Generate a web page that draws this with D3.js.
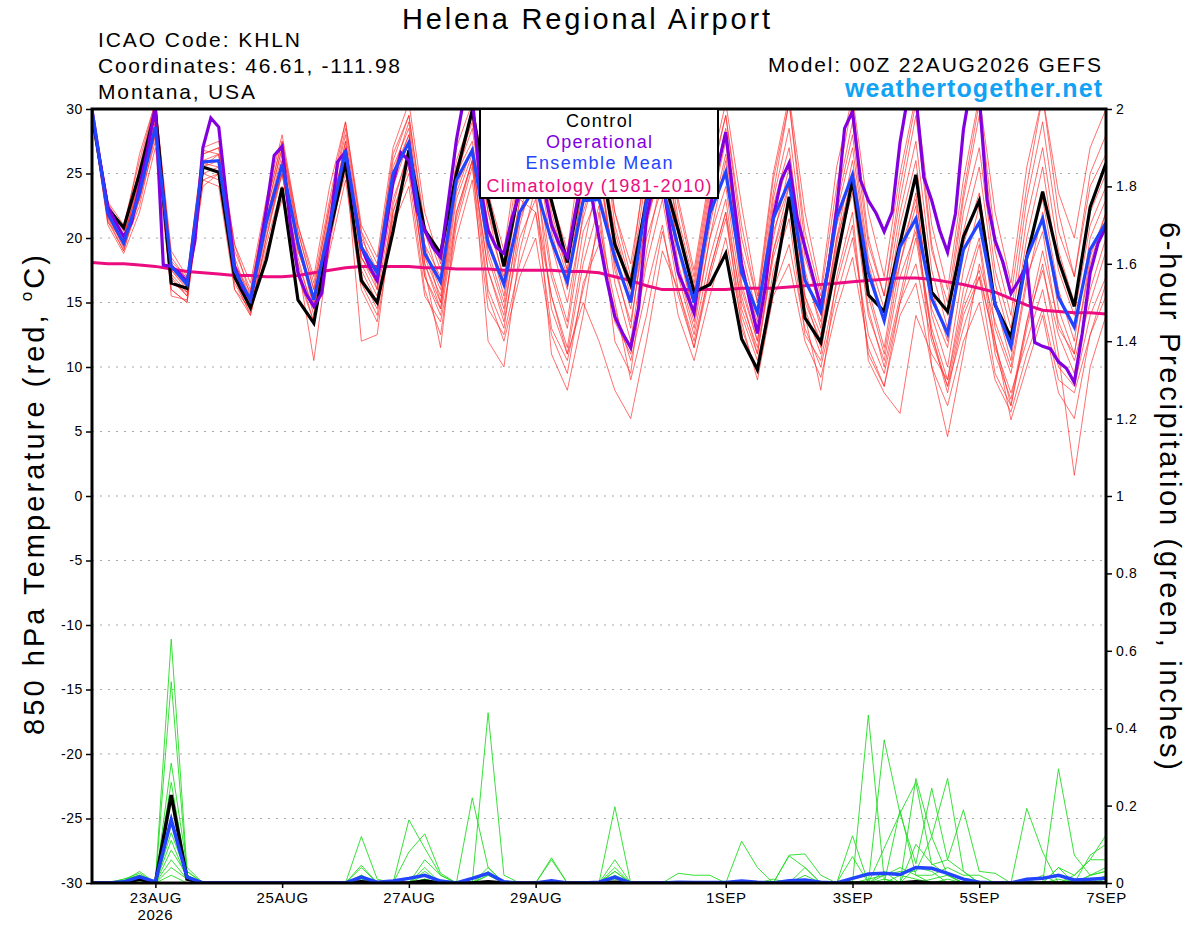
<!DOCTYPE html>
<html>
<head>
<meta charset="utf-8">
<script src="https://d3js.org/d3.v7.min.js"></script>
<style>
  body { margin: 0; background: #fff; }
  svg { display: block; font-family: "Liberation Sans", Arial, Helvetica, sans-serif; }
</style>
</head>
<body>
<div id="chart"></div>
<script>
// ---- data (6-hourly from 00Z 22AUG2026, op run 3-hourly) ----
const control = [29.5, 22.3, 20.8, 25.0, 29.9, 16.5, 16.1, 25.5, 25.1, 17.0, 14.6, 18.3, 23.9, 15.2, 13.4, 20.4,
  25.9, 16.7, 15.0, 20.5, 26.8, 20.6, 18.8, 25.0, 29.9, 23.0, 17.8, 24.0, 27.0, 22.9, 18.1, 25.0,
  27.0, 19.5, 16.4, 22.9, 25.0, 20.6, 15.8, 16.4, 18.8, 12.2, 9.8, 16.2, 23.2, 13.8, 11.9, 18.3,
  24.5, 15.6, 14.3, 19.6, 24.9, 15.8, 14.3, 20.1, 22.9, 14.8, 12.3, 18.5, 23.6, 18.3, 14.7, 22.4, 25.8];

const ensMean = [29.9, 21.9, 19.6, 23.5, 28.6, 17.8, 16.4, 25.9, 26.0, 17.5, 15.2, 21.2, 25.7, 19.6, 15.2, 21.0,
  26.8, 19.3, 17.3, 25.0, 27.4, 18.8, 16.6, 24.5, 26.8, 19.6, 16.4, 22.0, 24.0, 19.8, 16.6, 22.9,
  23.0, 18.5, 15.0, 22.9, 24.0, 19.3, 15.0, 21.9, 25.1, 17.3, 14.2, 21.5, 24.4, 16.7, 14.3, 21.6,
  24.9, 17.3, 13.6, 19.3, 21.5, 15.3, 12.6, 19.1, 21.2, 14.9, 11.6, 18.5, 21.5, 15.4, 13.1, 19.1, 21.2];

const climo = [18.1, 18.0, 18.0, 17.9, 17.8, 17.6, 17.4, 17.3, 17.2, 17.1, 17.1, 17.0, 17.0, 17.1, 17.3, 17.5,
  17.7, 17.8, 17.8, 17.8, 17.8, 17.7, 17.7, 17.6, 17.6, 17.6, 17.5, 17.5, 17.5, 17.5, 17.4, 17.4,
  17.3, 17.0, 16.7, 16.3, 16.0, 16.0, 16.0, 16.0, 16.0, 16.1, 16.1, 16.1, 16.2, 16.3, 16.4, 16.5,
  16.6, 16.7, 16.8, 16.9, 16.9, 16.8, 16.6, 16.4, 16.1, 15.8, 15.3, 14.8, 14.4, 14.3, 14.2, 14.2, 14.1];

// operational GFS, 3-hourly
const operational = [29.9, 26, 22.4, 21.2, 20.1, 21.2, 24, 26.8,
  30.2, 17.9, 17.8, 17.3, 16.6, 19.8, 27, 29.3,
  28.6, 23, 17.8, 16.2, 15.2, 18.5, 22.2, 26.4,
  27.1, 21.2, 17.3, 15.7, 14.7, 15.7, 20.6, 25.9,
  26.7, 22.9, 19.3, 17.8, 16.7, 20.4, 24.3, 26.6,
  26.0, 22.2, 20.6, 19.3, 18.5, 22.9, 27.6, 31,
  31, 24, 20.6, 19.3, 18.8, 21.5, 23.5, 26,
  28, 24, 21, 19.5, 18.5, 22, 25, 23.5,
  20, 16.7, 13.9, 12.6, 11.5, 14.6, 21.6, 24.5,
  24.5, 20.5, 17.3, 15.8, 14.2, 18.5, 22.2, 25.5,
  28.2, 23, 18, 15.2, 12.6, 16.2, 21.6, 24.5,
  25.8, 21.6, 19.3, 17, 14.7, 17.8, 22.2, 28.5,
  29.8, 24.5, 22.9, 21.9, 20.5, 22, 27.4, 31,
  31, 24.7, 22.9, 20.6, 18.9, 21.9, 28.4, 32,
  31, 22.9, 19.8, 18.1, 15.7, 16.7, 17.9, 11.9,
  11.6, 11.4, 10.4, 9.9, 8.8, 12.6, 17.3, 19.6,
  20.9];

// ensemble members, 850 hPa temperature
const ens01 = [30, 22.5, 20, 24.5, 29.5, 18.5, 16.8, 26.5, 27, 19, 16, 22.5, 27.5, 20.5, 16, 22.5,
  28.5, 20.5, 18, 26, 29.5, 21, 17.5, 26, 29.5, 22, 18, 26.5, 30.5, 22, 17.5, 27,
  30.5, 21, 16.5, 25, 29, 21.5, 16.5, 24, 29.5, 20, 15, 23.5, 30.5, 20.5, 15.5, 24,
  30.5, 20, 15.5, 23, 29.5, 19, 15, 23.5, 30.5, 20, 15.5, 24, 31, 22, 17, 25, 28];
const ens02 = [29.5, 21, 18.8, 22, 27, 16, 15, 24.5, 24, 16, 14, 19, 23, 17.5, 13.5, 19,
  24.5, 16, 13.5, 21, 24, 15.5, 13.5, 20, 24.5, 14.5, 12.5, 18, 22, 13, 10.5, 16,
  21, 15, 9, 14, 20.5, 15.5, 11.5, 17, 21.5, 14, 10.5, 16, 19.5, 13, 10, 15.5,
  20, 12.5, 9.5, 15, 18, 12, 8.5, 14.5, 17.5, 11.5, 8, 12, 16, 10, 8.5, 14, 17];
const ens03 = [30, 22, 19.5, 23, 28.5, 17.5, 16, 26, 26.5, 18, 15.5, 21, 26, 19.5, 14.5, 21.5,
  27.5, 18.5, 16.5, 24.5, 28, 19, 16, 25, 27.5, 20, 15.5, 23, 22, 15.5, 11, 15,
  12, 8.2, 6.0, 12, 19, 16, 12, 17.5, 22, 15, 11.5, 19, 24, 15, 12, 20,
  26, 17.5, 13.5, 18, 22.5, 10, 4.6, 11, 18, 13.5, 10, 17, 20.5, 13, 11, 18.5, 22];
const ens04 = [29.8, 21.5, 19, 23.5, 28, 17, 15.5, 25, 25.5, 17, 14.5, 20.5, 25, 18, 10.5, 19.5,
  26, 12, 12.5, 22, 25.5, 17.5, 11.5, 22, 26, 12, 10, 19, 24, 11, 8.2, 14,
  22, 12, 9.5, 19, 25, 17, 12.5, 18.5, 23, 14.5, 11, 19, 23, 14, 8.2, 17,
  22, 10.5, 8, 6.4, 14, 11, 9, 16, 20, 12, 7, 13, 18, 11, 1.6, 10, 14];
const ens05 = [30, 22.8, 21, 26, 30.5, 19, 17, 27, 27.5, 19.5, 16.5, 23, 28, 21, 16.5, 23,
  29, 21, 18.5, 27, 30.5, 22, 18, 27, 30.5, 23.5, 19, 27.5, 31, 23, 19, 28,
  31, 22, 17, 26.5, 30.5, 23, 17.5, 25, 30.5, 22.5, 15.5, 25, 31, 22, 16, 25.5,
  31, 22, 17, 25, 31, 21, 16, 24.5, 31, 22, 16.5, 25.5, 31, 23.5, 20, 27, 30];
const ens06 = [29.5, 21.8, 19.2, 24, 29, 15.5, 15.2, 25.5, 26, 17.5, 14.8, 21.5, 26.5, 19, 15.5, 22,
  27, 19.5, 17, 25.5, 28.5, 18, 15, 23.5, 27, 18.5, 14.5, 21.5, 24.5, 17, 13, 20.5,
  23.5, 19, 14.5, 21.5, 25.5, 19.5, 14, 21, 26.5, 18, 13, 22, 26, 17, 13.5, 21,
  25, 16, 11.5, 19, 23, 14.5, 11.5, 19.5, 23.5, 15, 10.5, 19, 23, 16, 12, 20, 23];
const ens07 = [30, 22, 20.2, 24, 29.5, 16.5, 15.8, 26.5, 27, 19.5, 15.5, 22, 27, 20, 15, 21,
  27.5, 18, 15.5, 23, 26.5, 17, 14.5, 22, 26, 17.5, 13.5, 20, 23, 15.5, 11.5, 19,
  25, 18, 13, 22, 27, 19, 14, 22, 27.5, 16.5, 12, 20.5, 24, 14.5, 11, 19,
  23.5, 14, 10.5, 17, 20.5, 13, 9, 15, 19.5, 11, 7.5, 13.5, 17.5, 12.5, 9.5, 16, 20];
const ens08 = [29.7, 21.2, 19.8, 25, 30, 18, 16.5, 25, 24.5, 16.5, 14.2, 20, 25.5, 19.5, 14.8, 20,
  26, 17, 14.5, 21.5, 25, 16, 12.5, 21, 25.5, 15.5, 12, 17, 20, 12.5, 9.5, 16.5,
  19.5, 14.5, 10.5, 16, 21, 14, 10.5, 15.5, 20, 13.5, 9, 15.5, 18, 12, 9.2, 14.5,
  18.5, 11.5, 8.5, 14, 16.5, 10, 7, 12, 15, 9, 6.5, 11, 14.5, 9, 8, 12.5, 15.5];
const ens09 = [30, 22.5, 20.5, 23, 27.5, 17.2, 15.8, 26, 26, 18.5, 15, 22, 27, 20.5, 16, 22.5,
  28, 20, 17.5, 26.5, 29.5, 20.5, 16.5, 25.5, 29, 21, 17, 24.5, 28, 20.5, 16, 24.5,
  28.5, 20, 15.5, 24, 28, 20.5, 15.5, 23, 28.5, 19, 14, 23, 28.5, 18.5, 14.5, 22.5,
  28, 18.5, 14.5, 22, 27.5, 17.5, 13, 22, 27, 17.5, 13, 21.5, 27, 19, 15, 22, 25];
const ens10 = [29.6, 21.6, 19.4, 22.5, 28, 16.8, 15.5, 24, 25, 17, 14.8, 21, 25, 18.5, 14, 21.5,
  26.5, 18.5, 16, 24, 27.5, 18.5, 15.5, 24, 27, 19, 15, 23, 27, 19.5, 15, 21.5,
  26, 16.5, 12, 20, 24, 17.5, 13, 20, 24, 15.5, 11, 18.5, 22.5, 15.5, 12.5, 20,
  24, 14.5, 10, 15.5, 21, 12.5, 8, 14, 17, 12, 5.9, 10, 14, 8, 6, 12.5, 16.5];
const ens11 = [30, 21.9, 19.6, 24.5, 29, 17.5, 16.2, 25.5, 26.5, 17.5, 15, 21.5, 26, 19, 15.5, 21.5,
  27, 18.5, 16.5, 25, 28, 19.5, 17, 25, 28.5, 20, 16.5, 24, 27.5, 21, 17, 24,
  27, 20.5, 16, 23.5, 27.5, 21, 16, 23.5, 28, 17.5, 13.5, 22.5, 27, 17.5, 13, 22,
  27, 18, 13.5, 21, 26, 16, 12, 20.5, 25.5, 16.5, 12, 20, 25.5, 17.5, 14, 21, 24];
const ens12 = [29.8, 22.2, 20, 25.5, 30.5, 18, 16.6, 25.8, 25.5, 16, 14.5, 19.5, 24, 17, 13.5, 20.5,
  25.5, 16.5, 14, 22.5, 27, 18, 14.5, 23, 26.5, 16, 13, 21, 25.5, 14.5, 11, 18,
  22.5, 13.5, 11, 18, 23, 16, 11.5, 17.5, 22, 13, 9.5, 17.5, 21.5, 12.5, 10.5, 16.5,
  21, 11, 8.5, 15, 20, 12.5, 8.5, 13, 17, 9.5, 7, 13.5, 19, 13.5, 10.5, 15, 19];
const ens13 = [30, 22.7, 20.6, 26.5, 30.5, 18.2, 16.9, 26.8, 26.5, 18, 15.8, 22.5, 27.5, 21, 17, 24,
  29, 20.5, 16, 25, 29, 19.5, 15, 24.5, 29.5, 22, 16.5, 26, 29, 21.5, 17.5, 26,
  29.5, 22, 18, 25.5, 29.5, 22.5, 17, 24.5, 29.5, 21, 15, 24.5, 30.5, 19.5, 14, 23,
  29, 19.5, 15.5, 24, 30.5, 19.5, 14, 23, 29.5, 19, 14, 23, 29, 20.5, 17, 24, 26.5];
const ens14 = [29.4, 21.3, 19, 23, 28.5, 16, 15, 24.5, 25, 16.8, 14, 20, 25, 18, 14.5, 20.5,
  25, 17.5, 15, 22, 26, 17, 14, 21.5, 26, 17.5, 14, 22, 26, 17.5, 13.5, 22,
  26, 17.5, 13.5, 21, 26, 18, 13.5, 20, 26, 16, 12, 20, 25.5, 15.5, 11.5, 19.5,
  25, 15.5, 11, 18, 23.5, 14, 10, 17.5, 22.5, 13, 9.5, 16.5, 22, 14.5, 11, 18, 22];
const tempMembers = [ens01, ens02, ens03, ens04, ens05, ens06, ens07, ens08, ens09, ens10, ens11, ens12, ens13, ens14];

// 6-hour precipitation (inches)
const pcpControl = [0, 0, 0, 0.01, 0, 0.227, 0.01, 0, 0, 0, 0, 0, 0, 0, 0, 0,
  0, 0.003, 0, 0, 0, 0.005, 0, 0, 0, 0.003, 0, 0, 0, 0, 0, 0,
  0, 0.002, 0, 0, 0, 0, 0, 0, 0, 0, 0, 0, 0, 0, 0, 0,
  0, 0, 0, 0, 0.003, 0, 0, 0, 0, 0, 0, 0, 0, 0, 0, 0, 0];
const pcpMean = [0, 0, 0.003, 0.016, 0.003, 0.163, 0.015, 0, 0, 0, 0, 0, 0, 0, 0, 0,
  0, 0.015, 0.002, 0.005, 0.012, 0.02, 0.005, 0, 0.012, 0.025, 0.003, 0, 0, 0.006, 0, 0,
  0.002, 0.015, 0, 0, 0, 0.002, 0.001, 0.001, 0.001, 0.005, 0.002, 0, 0.006, 0.008, 0.002, 0,
  0.012, 0.023, 0.025, 0.022, 0.04, 0.038, 0.025, 0.01, 0.002, 0, 0, 0.01, 0.012, 0.02, 0.008, 0.01, 0.012];
const pcp01 = [0, 0, 0.005, 0.02, 0.005, 0.63, 0.03, 0, 0, 0, 0, 0, 0, 0, 0, 0,
  0, 0, 0, 0, 0, 0, 0, 0, 0, 0.44, 0.02, 0, 0, 0, 0, 0,
  0, 0, 0, 0, 0, 0, 0, 0, 0, 0, 0, 0, 0, 0, 0, 0,
  0, 0.434, 0.01, 0, 0.1, 0.05, 0.02, 0, 0, 0, 0, 0, 0, 0.04, 0, 0, 0];
const pcp02 = [0, 0, 0.01, 0.025, 0, 0.52, 0.02, 0, 0, 0, 0, 0, 0, 0, 0, 0,
  0, 0.12, 0.01, 0, 0, 0, 0, 0, 0.22, 0.04, 0, 0, 0, 0, 0, 0,
  0, 0.197, 0, 0, 0, 0, 0, 0, 0, 0, 0, 0, 0, 0, 0, 0,
  0.122, 0, 0, 0.189, 0.02, 0, 0, 0, 0, 0, 0, 0.193, 0.08, 0, 0, 0, 0.01];
const pcp03 = [0, 0, 0.005, 0.03, 0, 0.31, 0.04, 0, 0, 0, 0, 0, 0, 0, 0, 0,
  0, 0.046, 0, 0, 0.163, 0.09, 0.02, 0, 0, 0.03, 0, 0, 0, 0.065, 0, 0,
  0, 0.03, 0, 0, 0, 0, 0, 0, 0, 0, 0, 0, 0.072, 0.075, 0.02, 0,
  0, 0, 0.37, 0.18, 0.05, 0.245, 0.06, 0.03, 0, 0, 0, 0, 0, 0.295, 0.072, 0.02, 0.03];
const pcp04 = [0, 0, 0, 0.015, 0.005, 0.26, 0.02, 0, 0, 0, 0, 0, 0, 0, 0, 0,
  0, 0.04, 0, 0, 0.08, 0.127, 0.025, 0, 0, 0, 0, 0, 0, 0, 0, 0,
  0, 0.06, 0, 0, 0, 0, 0, 0, 0, 0.108, 0.04, 0, 0, 0.04, 0, 0,
  0, 0, 0, 0, 0.27, 0.12, 0.27, 0.03, 0, 0, 0, 0, 0, 0, 0.02, 0.06, 0.124];
const pcp05 = [0, 0, 0.01, 0.02, 0, 0.16, 0.03, 0, 0, 0, 0, 0, 0, 0, 0, 0,
  0, 0.02, 0, 0, 0, 0.06, 0.02, 0, 0, 0.04, 0, 0, 0, 0.06, 0, 0,
  0, 0.04, 0, 0, 0, 0.025, 0.02, 0.02, 0, 0, 0, 0, 0.07, 0.04, 0, 0,
  0.068, 0, 0.09, 0.18, 0.26, 0.047, 0.06, 0.189, 0.03, 0.025, 0, 0, 0, 0, 0, 0.072, 0.1];
const pcp06 = [0, 0, 0, 0.01, 0, 0.13, 0.02, 0, 0, 0, 0, 0, 0, 0, 0, 0,
  0, 0.01, 0, 0, 0, 0.04, 0, 0, 0, 0, 0, 0, 0, 0, 0, 0,
  0, 0.03, 0, 0, 0, 0, 0, 0, 0, 0, 0, 0, 0, 0, 0, 0,
  0, 0.01, 0.02, 0.03, 0.03, 0.12, 0.02, 0, 0, 0, 0, 0, 0, 0.04, 0.02, 0.06, 0.06];
const pcp07 = [0, 0, 0, 0.01, 0, 0.11, 0.01, 0, 0, 0, 0, 0, 0, 0, 0, 0,
  0, 0, 0, 0, 0, 0.02, 0, 0, 0, 0, 0, 0, 0, 0, 0, 0,
  0, 0, 0, 0, 0, 0, 0, 0, 0, 0, 0, 0.01, 0, 0.02, 0, 0,
  0, 0, 0.02, 0.04, 0.02, 0.02, 0.04, 0.02, 0.02, 0, 0, 0, 0, 0, 0, 0.02, 0.03];
const pcp08 = [0, 0, 0.005, 0.02, 0, 0.085, 0.02, 0, 0, 0, 0, 0, 0, 0, 0, 0,
  0, 0.02, 0, 0, 0, 0.03, 0, 0, 0, 0.02, 0, 0, 0, 0, 0, 0,
  0, 0.02, 0, 0, 0, 0, 0, 0, 0, 0, 0, 0, 0, 0, 0, 0,
  0, 0, 0.03, 0, 0.04, 0.03, 0, 0, 0, 0, 0, 0, 0.02, 0, 0.01, 0, 0.02];
const pcp09 = [0, 0, 0, 0.01, 0, 0.06, 0.01, 0, 0, 0, 0, 0, 0, 0, 0, 0,
  0, 0, 0, 0, 0, 0.01, 0, 0, 0, 0.02, 0, 0, 0, 0, 0, 0,
  0, 0, 0, 0, 0, 0, 0, 0, 0, 0, 0, 0, 0, 0, 0, 0,
  0, 0, 0, 0.02, 0.01, 0, 0.01, 0, 0, 0, 0, 0, 0, 0.01, 0, 0, 0];
const pcp10 = [0, 0, 0, 0.005, 0, 0.04, 0.01, 0, 0, 0, 0, 0, 0, 0, 0, 0,
  0, 0, 0, 0, 0, 0.01, 0, 0, 0, 0, 0, 0, 0, 0, 0, 0,
  0, 0.01, 0, 0, 0, 0, 0, 0, 0, 0, 0, 0, 0, 0, 0, 0,
  0, 0, 0.01, 0, 0, 0.01, 0.02, 0, 0, 0, 0, 0, 0, 0, 0, 0.02, 0.04];
const pcp11 = [0, 0, 0, 0, 0, 0.02, 0, 0, 0, 0, 0, 0, 0, 0, 0, 0,
  0, 0, 0, 0, 0, 0, 0, 0, 0, 0, 0, 0, 0, 0, 0, 0,
  0, 0, 0, 0, 0, 0, 0, 0, 0, 0, 0, 0, 0, 0, 0, 0,
  0, 0, 0, 0, 0, 0, 0, 0, 0, 0, 0, 0, 0, 0, 0, 0, 0];
const pcpMembers = [pcp01, pcp02, pcp03, pcp04, pcp05, pcp06, pcp07, pcp08, pcp09, pcp10, pcp11];

// axis ticks
const tempTicks = [-30, -25, -20, -15, -10, -5, 0, 5, 10, 15, 20, 25, 30];
const pcpTicks = [0, 0.2, 0.4, 0.6, 0.8, 1, 1.2, 1.4, 1.6, 1.8, 2];
const dayLabels = ["23AUG", "25AUG", "27AUG", "29AUG", "1SEP", "3SEP", "5SEP", "7SEP"];
const dayTicks = [[2026, 7, 23], [2026, 7, 25], [2026, 7, 27], [2026, 7, 29], [2026, 8, 1], [2026, 8, 3], [2026, 8, 5], [2026, 8, 7]];

// ---- layout ----
const WIDTH = 1200;
const HEIGHT = 927;
const margin = { top: 109, left: 92, right: 94, bottom: 44 };
const WVIS = WIDTH - margin.left - margin.right;
const HVIS = HEIGHT - margin.top - margin.bottom;
const FONT = '"Liberation Sans", Arial, Helvetica, sans-serif';

const START = Date.UTC(2026, 7, 22, 0);
const HOUR = 3600 * 1000;
const times6 = control.map((d, i) => new Date(START + i * 6 * HOUR));
const times3 = operational.map((d, i) => new Date(START + i * 3 * HOUR));

const svg = d3.select("#chart").append("svg")
  .attr("width", WIDTH).attr("height", HEIGHT);

const x = d3.scaleUtc()
  .domain([new Date(START), new Date(Date.UTC(2026, 8, 7))])
  .range([0, WVIS]);
const yT = d3.scaleLinear().domain([-30, 30]).range([HVIS, 0]);
const yP = d3.scaleLinear().domain([0, 2]).range([HVIS, 0]);

svg.append("defs").append("clipPath").attr("id", "plotclip")
  .append("rect").attr("width", WVIS).attr("height", HVIS);

const g = svg.append("g").attr("transform", `translate(${margin.left},${margin.top})`);

// grid
g.append("g").selectAll("line")
  .data(tempTicks.filter(t => t > -30 && t < 30))
  .join("line")
  .attr("x1", 0).attr("x2", WVIS)
  .attr("y1", d => yT(d)).attr("y2", d => yT(d))
  .attr("stroke", "#aaa").attr("stroke-width", 1.2)
  .attr("stroke-dasharray", "2,6");

const plot = g.append("g").attr("clip-path", "url(#plotclip)");

const lineT = d3.line().x((d, i) => x(times6[i])).y(d => yT(d));
const lineOp = d3.line().x((d, i) => x(times3[i])).y(d => yT(d));
const lineP = d3.line().x((d, i) => x(times6[i])).y(d => yP(d));

// members
plot.append("g").selectAll("path").data(tempMembers).join("path")
  .attr("d", lineT).attr("fill", "none")
  .attr("stroke", "#ff2a2a").attr("stroke-width", 0.9).attr("stroke-opacity", 0.75);

plot.append("g").selectAll("path").data(pcpMembers).join("path")
  .attr("d", lineP).attr("fill", "none")
  .attr("stroke", "#22dd22").attr("stroke-width", 0.9);

plot.append("path").datum(climo).attr("d", lineT).attr("fill", "none")
  .attr("stroke", "#ec0c80").attr("stroke-width", 3);

plot.append("path").datum(pcpControl).attr("d", lineP).attr("fill", "none")
  .attr("stroke", "#000").attr("stroke-width", 3.5);
plot.append("path").datum(pcpMean).attr("d", lineP).attr("fill", "none")
  .attr("stroke", "#2244ff").attr("stroke-width", 3.5);

plot.append("path").datum(control).attr("d", lineT).attr("fill", "none")
  .attr("stroke", "#000").attr("stroke-width", 3.2).attr("stroke-linejoin", "miter");
plot.append("path").datum(operational).attr("d", lineOp).attr("fill", "none")
  .attr("stroke", "#8200e0").attr("stroke-width", 3.2);
plot.append("path").datum(ensMean).attr("d", lineT).attr("fill", "none")
  .attr("stroke", "#2244ff").attr("stroke-width", 3.2);

// axes
const axL = g.append("g").call(d3.axisLeft(yT).tickValues(tempTicks).tickSize(6).tickFormat(d => String(d)));
const axR = g.append("g").attr("transform", `translate(${WVIS},0)`)
  .call(d3.axisRight(yP).tickValues(pcpTicks).tickSize(6).tickFormat(d => String(d)));
const axB = g.append("g").attr("transform", `translate(0,${HVIS})`)
  .call(d3.axisBottom(x).tickValues(dayTicks.map(d => new Date(Date.UTC(d[0], d[1], d[2]))))
    .tickSize(5).tickFormat((d, i) => dayLabels[i]));

[axL, axR, axB].forEach(ax => {
  ax.select(".domain").remove();
  ax.selectAll(".tick line").attr("stroke", "#000").attr("stroke-width", 1.5);
  ax.selectAll("text").attr("fill", "#000").attr("font-family", FONT)
    .attr("font-size", 14).attr("letter-spacing", "0.6px");
});
axL.selectAll("text").attr("x", -9);
axR.selectAll("text").attr("x", 10);
axB.selectAll("text").attr("font-size", 15).attr("y", 9);

g.append("text").attr("x", x(new Date(Date.UTC(2026, 7, 23)))).attr("y", HVIS + 37)
  .attr("text-anchor", "middle").attr("font-size", 15).attr("letter-spacing", "0.6px").text("2026");

// frame
g.append("rect").attr("width", WVIS).attr("height", HVIS)
  .attr("fill", "none").attr("stroke", "#000").attr("stroke-width", 3);

// legend
const leg = g.append("g");
leg.append("rect").attr("x", 480 - margin.left).attr("y", 0)
  .attr("width", 238).attr("height", 89)
  .attr("fill", "#fff").attr("stroke", "#000").attr("stroke-width", 2);
const legItems = [
  ["Control", "#000", 18, 66],
  ["Operational", "#8200e0", 39, 106],
  ["Ensemble Mean", "#2244ff", 60, 147],
  ["Climatology (1981-2010)", "#ec0c80", 83, 225]
];
leg.selectAll("text").data(legItems).join("text")
  .attr("x", 599 - margin.left).attr("y", d => d[2])
  .attr("text-anchor", "middle").attr("font-size", 18)
  .attr("fill", d => d[1])
  .attr("textLength", d => d[3]).attr("lengthAdjust", "spacing")
  .text(d => d[0]);

// titles
function txt(t, xx, yy, size, anchor, len, extra) {
  const el = svg.append("text").attr("x", xx).attr("y", yy)
    .attr("font-size", size).attr("text-anchor", anchor)
    .attr("textLength", len).attr("lengthAdjust", "spacing").text(t);
  if (extra) extra(el);
  return el;
}
txt("Helena Regional Airport", 586, 29, 29, "middle", 368);
txt("ICAO Code: KHLN", 98, 47, 21, "start", 202);
txt("Coordinates: 46.61, -111.98", 98, 73, 21, "start", 302);
txt("Montana, USA", 98, 99, 21, "start", 157);
txt("Model: 00Z 22AUG2026 GEFS", 1101, 72, 21, "end", 333);
txt("weathertogether.net", 1102, 97, 25, "end", 257, el => el.attr("font-weight", "bold").attr("fill", "#12a2f4"));

// axis titles
const yl = svg.append("text")
  .attr("transform", "translate(44,495) rotate(-90)")
  .attr("text-anchor", "middle").attr("font-size", 29)
  .attr("textLength", 480).attr("lengthAdjust", "spacing");
yl.append("tspan").text("850 hPa Temperature (red, ");
yl.append("tspan").attr("font-size", 17).attr("dy", -12).text("o");
yl.append("tspan").attr("dy", 12).text("C)");

svg.append("text")
  .attr("transform", "translate(1160,496) rotate(90)")
  .attr("text-anchor", "middle").attr("font-size", 29)
  .attr("textLength", 548).attr("lengthAdjust", "spacing")
  .text("6-hour Precipitation (green, inches)");
</script>
</body>
</html>
